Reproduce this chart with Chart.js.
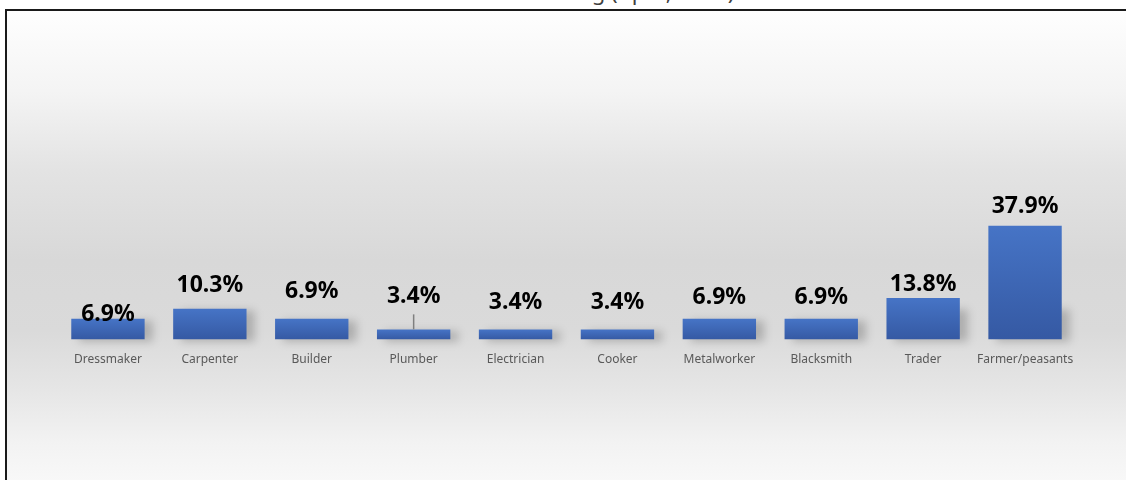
<!DOCTYPE html>
<html>
<head>
<meta charset="utf-8">
<script src="https://cdn.jsdelivr.net/npm/chart.js@4"></script>
<style>
  html, body { margin: 0; padding: 0; background: #fff; overflow: hidden; }
  body { width: 1126px; height: 480px; position: relative; }
  .title {
    position: absolute; left: 0; top: -20px; width: 1126px; text-align: center;
    font: 22px "Noto Sans", sans-serif; line-height: 22px; color: #404040;
  }
  .frame {
    position: absolute; left: 5px; top: 9px; width: 1140px; height: 490px;
    border: 2px solid #1a1a1a;
    background: linear-gradient(to bottom, #fefefe 0px, #f4f4f4 80px, #e3e3e3 160px,
      #d8d8d8 250px, #dadada 320px, #e6e6e6 380px, #f2f2f2 430px, #f8f8f8 470px);
  }
  #chart { position: absolute; left: 0; top: 0; }
</style>
</head>
<body>
<div class="title">Professional training (April, 2017)</div>
<div class="frame"></div>
<canvas id="chart" width="1126" height="480"></canvas>
<script>
// الفئات والقيم
const categories = ['Dressmaker', 'Carpenter', 'Builder', 'Plumber', 'Electrician',
                    'Cooker', 'Metalworker', 'Blacksmith', 'Trader', 'Farmer/peasants'];
const shares = [6.9, 10.3, 6.9, 3.4, 3.4, 3.4, 6.9, 6.9, 13.8, 37.9];
const valueLabels = ['6.9%', '10.3%', '6.9%', '3.4%', '3.4%', '3.4%', '6.9%', '6.9%', '13.8%', '37.9%'];

// ارتفاع كل تسمية فوق العمود (بكسل) وخط الربط
const labelLift = [-2, 17, 21, 26, 20, 20, 15, 15, 7, 13];
const labelLeader = [false, false, false, true, false, false, false, false, false, false];

// تدرج لكل عمود من الأعلى للأسفل
function barGradient(ctx) {
    const chart = ctx.chart;
    const y = chart.scales.y;
    if (!y || ctx.type !== 'data') return '#4472c4';
    const top = y.getPixelForValue(ctx.raw);
    const bottom = y.getPixelForValue(0);
    if (!isFinite(top) || !isFinite(bottom)) return '#4472c4';
    const g = chart.ctx.createLinearGradient(0, top, 0, bottom);
    g.addColorStop(0, '#4674c6');
    g.addColorStop(1, '#3559a3');
    return g;
}

// ظل خفيف أسفل يمين الأعمدة
const barShadow = {
    id: 'barShadow',
    beforeDatasetsDraw(chart) {
        const ctx = chart.ctx;
        const bars = chart.getDatasetMeta(0).data;
        ctx.save();
        ctx.filter = 'blur(4px)';
        ctx.fillStyle = 'rgba(0,0,0,0.2)';
        bars.forEach(bar => {
            const w = bar.width;
            const top = Math.max(bar.y, bar.base - 32);
            ctx.fillRect(bar.x - w / 2 + 8, top + 2, w, bar.base - top);
        });
        ctx.restore();
    }
};

// تسميات القيم فوق الأعمدة
const valueTags = {
    id: 'valueTags',
    afterDatasetsDraw(chart) {
        const ctx = chart.ctx;
        const bars = chart.getDatasetMeta(0).data;
        ctx.save();
        bars.forEach((bar, i) => {
            const baseLine = bar.y - labelLift[i];
            if (labelLeader[i]) {
                ctx.strokeStyle = '#7f7f7f';
                ctx.lineWidth = 1.5;
                ctx.beginPath();
                ctx.moveTo(bar.x, baseLine + 11);
                ctx.lineTo(bar.x, bar.y);
                ctx.stroke();
            }
            ctx.font = 'bold 23px "Noto Sans"';
            ctx.fillStyle = '#000';
            ctx.textAlign = 'center';
            ctx.textBaseline = 'alphabetic';
            ctx.fillText(valueLabels[i], bar.x, baseLine);
        });
        ctx.restore();
    }
};

document.addEventListener('DOMContentLoaded', function() {
    new Chart(document.getElementById('chart'), {
        type: 'bar',
        data: {
            labels: categories,
            datasets: [{
                data: shares,
                backgroundColor: barGradient,
                borderWidth: 0,
                barPercentage: 0.72,
                categoryPercentage: 1
            }]
        },
        options: {
            responsive: false,
            animation: false,
            layout: { padding: { left: 57, right: 50, top: 39, bottom: 100 } },
            plugins: {
                legend: { display: false },
                tooltip: { enabled: false }
            },
            scales: {
                x: {
                    grid: { display: false, drawTicks: false },
                    border: { display: false },
                    ticks: {
                        color: '#595959',
                        padding: 13,
                        maxRotation: 0,
                        font: { family: 'Noto Sans', size: 12 }
                    }
                },
                y: {
                    display: false,
                    min: 0,
                    max: 100
                }
            }
        },
        plugins: [barShadow, valueTags]
    });
});
</script>
</body>
</html>
